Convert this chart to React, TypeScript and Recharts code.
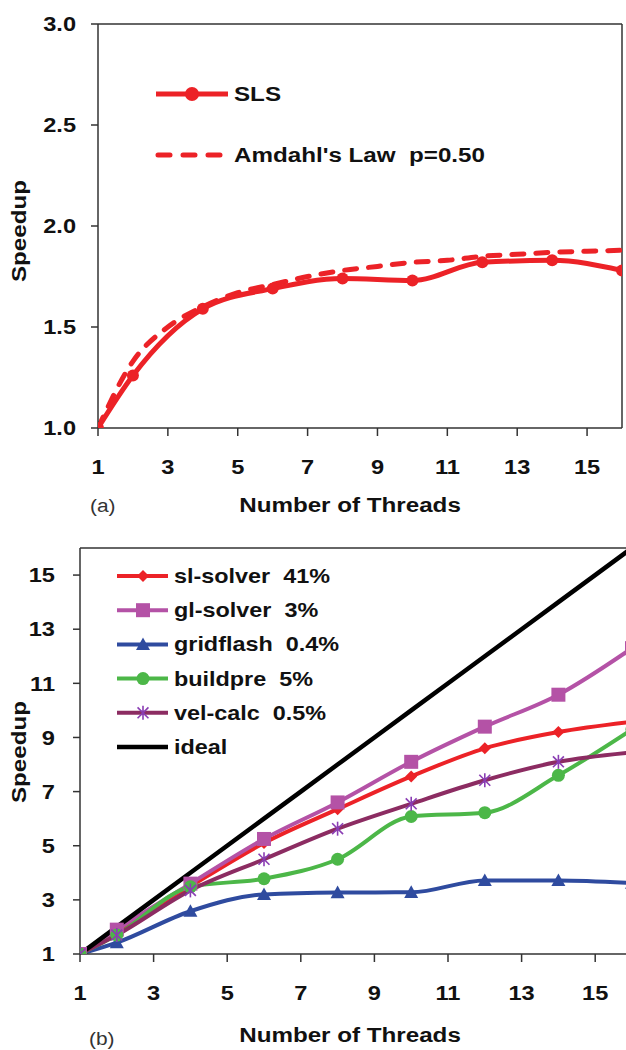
import React from 'react';
import { LineChart, Line, XAxis, YAxis, ReferenceLine, Legend } from 'recharts';

const FONT = "'Liberation Sans', Arial, Helvetica, sans-serif";
const SX = 1.18;

// ---------- chart (a) ----------
const slsThreads = [1, 2, 4, 6, 8, 10, 12, 14, 16];
const slsSpeedup = [1.0, 1.26, 1.59, 1.69, 1.74, 1.73, 1.82, 1.83, 1.78];
const amdahlThreads = [1, 2, 3, 4, 5, 6, 7, 8, 9, 10, 11, 12, 13, 14, 15, 16];
const amdahlSpeedup = [1.0, 1.33, 1.5, 1.6, 1.67, 1.71, 1.75, 1.78, 1.8, 1.82, 1.83, 1.85, 1.86, 1.87, 1.875, 1.88];
const ticksAX = [1, 3, 5, 7, 9, 11, 13, 15];
const ticksAY = [1.0, 1.5, 2.0, 2.5, 3.0];

// ---------- chart (b) ----------
const threadsB = [1, 2, 4, 6, 8, 10, 12, 14, 16];
const slSolver = [1, 1.8, 3.5, 5.1, 6.35, 7.56, 8.6, 9.2, 9.58];
const glSolver = [1, 1.9, 3.6, 5.25, 6.6, 8.1, 9.4, 10.58, 12.3];
const gridflash = [1, 1.42, 2.58, 3.2, 3.27, 3.28, 3.72, 3.72, 3.62];
const buildpre = [1, 1.7, 3.48, 3.78, 4.5, 6.08, 6.22, 7.6, 9.3];
const velCalc = [1, 1.7, 3.35, 4.5, 5.63, 6.55, 7.42, 8.1, 8.45];
const ideal = [1, 2, 4, 6, 8, 10, 12, 14, 16];
const ticksBX = [1, 3, 5, 7, 9, 11, 13, 15];
const ticksBY = [1, 3, 5, 7, 9, 11, 13, 15];
const seriesKeysB = ['sl', 'gl', 'grid', 'build', 'vel', 'ideal'];
const seriesNamesB = ['sl-solver  41%', 'gl-solver  3%', 'gridflash  0.4%', 'buildpre  5%', 'vel-calc  0.5%', 'ideal'];

const slsData = slsThreads.map((t, i) => ({ threads: t, sls: slsSpeedup[i] }));
const amdahlData = amdahlThreads.map((t, i) => ({ threads: t, amdahl: amdahlSpeedup[i] }));
const dataB = threadsB.map((t, i) => ({
  threads: t,
  sl: slSolver[i],
  gl: glSolver[i],
  grid: gridflash[i],
  build: buildpre[i],
  vel: velCalc[i],
  ideal: ideal[i],
}));

const RED = '#ec2227';
const MAGENTA = '#b452a6';
const BLUE = '#2f4b9f';
const GREEN = '#4cb748';
const MAROON = '#8c2c62';
const STARC = '#8a3db3';
const AXIS = '#333';
const colorsB = [RED, MAGENTA, BLUE, GREEN, MAROON, '#000'];

function Txt(props: any) {
  const { x, y, anchor = 'middle', size = 20, weight = 'bold', rotate = 0, fill = '#111', sx = SX, children } = props;
  return (
    <g transform={`translate(${x},${y}) rotate(${rotate})`}>
      <text
        transform={`scale(${sx},1)`}
        x={0}
        y={0}
        dy="0.36em"
        textAnchor={anchor}
        fontSize={size}
        fontWeight={weight}
        fontFamily={FONT}
        fill={fill}
        style={{ whiteSpace: 'pre' }}
      >
        {children}
      </text>
    </g>
  );
}

function Diamond({ cx, cy, r = 6, fill }: any) {
  return <path d={`M${cx},${cy - r} L${cx + r},${cy} L${cx},${cy + r} L${cx - r},${cy} Z`} fill={fill} />;
}
function Square({ cx, cy, r = 7, fill }: any) {
  return <rect x={cx - r} y={cy - r} width={2 * r} height={2 * r} fill={fill} />;
}
function Triangle({ cx, cy, r = 7, fill }: any) {
  return <path d={`M${cx},${cy - r} L${cx + r},${cy + r * 0.8} L${cx - r},${cy + r * 0.8} Z`} fill={fill} />;
}
function Circle({ cx, cy, r = 7, fill }: any) {
  return <circle cx={cx} cy={cy} r={r} fill={fill} />;
}
function Star({ cx, cy, r = 7, stroke }: any) {
  const d = r * 0.78;
  return (
    <g stroke={stroke} strokeWidth={1.6}>
      <line x1={cx} y1={cy - r} x2={cx} y2={cy + r} />
      <line x1={cx - d} y1={cy - d} x2={cx + d} y2={cy + d} />
      <line x1={cx - d} y1={cy + d} x2={cx + d} y2={cy - d} />
    </g>
  );
}

const markerFor: Record<string, (cx: number, cy: number, key?: any) => any> = {
  sl: (cx, cy, key) => <Diamond key={key} cx={cx} cy={cy} r={6} fill={RED} />,
  gl: (cx, cy, key) => <Square key={key} cx={cx} cy={cy} r={7} fill={MAGENTA} />,
  grid: (cx, cy, key) => <Triangle key={key} cx={cx} cy={cy} r={7} fill={BLUE} />,
  build: (cx, cy, key) => <Circle key={key} cx={cx} cy={cy} r={6.5} fill={GREEN} />,
  vel: (cx, cy, key) => <Star key={key} cx={cx} cy={cy} r={7} stroke={STARC} />,
  ideal: () => null,
};

function LegendA(props: any) {
  const payload = [...(props.payload || [])].sort((a: any, b: any) => (a.dataKey === 'sls' ? -1 : b.dataKey === 'sls' ? 1 : 0));
  return (
    <svg width={360} height={120} style={{ overflow: 'visible' }}>
      {payload.map((p: any, i: number) => {
        const y = 24 + i * 61;
        const dashed = p.dataKey === 'amdahl';
        return (
          <g key={p.dataKey}>
            {dashed ? (
              <line x1={8} y1={y} x2={72} y2={y} stroke={p.color} strokeWidth={5} strokeDasharray="12 13" strokeLinecap="round" />
            ) : (
              <>
                <line x1={6} y1={y} x2={78} y2={y} stroke={p.color} strokeWidth={5} />
                <circle cx={42} cy={y} r={7} fill={p.color} />
              </>
            )}
            <Txt x={84} y={y} anchor="start" size={20.5}>
              {p.value}
            </Txt>
          </g>
        );
      })}
    </svg>
  );
}

function LegendB(props: any) {
  const payload = [...(props.payload || [])].sort(
    (a: any, b: any) => seriesKeysB.indexOf(a.dataKey) - seriesKeysB.indexOf(b.dataKey)
  );
  return (
    <svg width={300} height={200} style={{ overflow: 'visible' }}>
      {payload.map((p: any, i: number) => {
        const y = 16 + i * 34.2;
        return (
          <g key={p.dataKey}>
            <line x1={7} y1={y} x2={58} y2={y} stroke={p.color} strokeWidth={p.dataKey === 'ideal' ? 4.5 : 4} />
            {markerFor[p.dataKey](33, y)}
            <Txt x={64} y={y} anchor="start" size={19.5} sx={1.2}>
              {p.value}
            </Txt>
          </g>
        );
      })}
    </svg>
  );
}

function ChartA() {
  return (
    <LineChart width={626} height={530} margin={{ top: 24, right: 4, left: 0, bottom: 0 }}>
      <XAxis
        dataKey="threads"
        type="number"
        domain={[1, 16]}
        ticks={ticksAX}
        allowDataOverflow
        height={102}
        axisLine={{ stroke: AXIS, strokeWidth: 1.5 }}
        tickLine={{ stroke: AXIS, strokeWidth: 1.5 }}
        tickSize={8}
        tickMargin={31}
        tick={(p: any) => (
          <Txt x={p.x} y={p.y} anchor="middle">
            {p.payload.value}
          </Txt>
        )}
        label={{
          content: () => (
            <g>
              <Txt x={350} y={505} size={20.5}>
                Number of Threads
              </Txt>
              <Txt x={90} y={505} anchor="start" size={19} weight="normal" fill="#333" sx={1.1}>
                (a)
              </Txt>
            </g>
          ),
        }}
      />
      <YAxis
        type="number"
        domain={[1, 3]}
        ticks={ticksAY}
        allowDataOverflow
        width={98}
        axisLine={{ stroke: AXIS, strokeWidth: 1.5 }}
        tickLine={{ stroke: AXIS, strokeWidth: 1.5 }}
        tickSize={7}
        tickMargin={15}
        tick={(p: any) => (
          <Txt x={p.x} y={p.y} anchor="end">
            {Number(p.payload.value).toFixed(1)}
          </Txt>
        )}
        label={{
          content: () => (
            <Txt x={19} y={231} rotate={-90} size={20.5}>
              Speedup
            </Txt>
          ),
        }}
      />
      <ReferenceLine y={3} stroke={AXIS} strokeWidth={1.5} />
      <ReferenceLine x={16} stroke={AXIS} strokeWidth={1.5} />
      <Line
        data={amdahlData}
        dataKey="amdahl"
        name="Amdahl's Law  p=0.50"
        type="monotone"
        stroke={RED}
        strokeWidth={5}
        strokeDasharray="12 12"
        strokeLinecap="round"
        dot={false}
        activeDot={false}
        isAnimationActive={false}
      />
      <Line
        data={slsData}
        dataKey="sls"
        name="SLS"
        type="monotone"
        stroke={RED}
        strokeWidth={5}
        dot={(p: any) => <circle key={`sls-${p.index}`} cx={p.cx} cy={p.cy} r={6} fill={RED} />}
        activeDot={false}
        isAnimationActive={false}
      />
      <Legend
        layout="vertical"
        align="center"
        verticalAlign="middle"
        content={(p: any) => <LegendA payload={p.payload} />}
        wrapperStyle={{ left: 150, top: 70, width: 360, height: 120 }}
      />
    </LineChart>
  );
}

function ChartB() {
  return (
    <LineChart width={640} height={520} data={dataB} margin={{ top: 18, right: 8, left: 0, bottom: 0 }}>
      <XAxis
        dataKey="threads"
        type="number"
        domain={[1, 16]}
        ticks={ticksBX}
        allowDataOverflow
        height={96}
        axisLine={{ stroke: AXIS, strokeWidth: 1.5 }}
        tickLine={{ stroke: AXIS, strokeWidth: 1.5 }}
        tickSize={8}
        tickMargin={31}
        tick={(p: any) => (
          <Txt x={p.x} y={p.y} anchor="middle">
            {p.payload.value}
          </Txt>
        )}
        label={{
          content: () => (
            <g>
              <Txt x={350} y={505} size={20.5}>
                Number of Threads
              </Txt>
              <Txt x={89} y={508} anchor="start" size={19} weight="normal" fill="#333" sx={1.1}>
                (b)
              </Txt>
            </g>
          ),
        }}
      />
      <YAxis
        type="number"
        domain={[1, 16]}
        ticks={ticksBY}
        allowDataOverflow
        width={80}
        axisLine={{ stroke: AXIS, strokeWidth: 1.5 }}
        tickLine={{ stroke: AXIS, strokeWidth: 1.5 }}
        tickSize={7}
        tickMargin={18}
        tick={(p: any) => (
          <Txt x={p.x} y={p.y} anchor="end">
            {p.payload.value}
          </Txt>
        )}
        label={{
          content: () => (
            <Txt x={19} y={222} rotate={-90} size={20.5}>
              Speedup
            </Txt>
          ),
        }}
      />
      <ReferenceLine y={16} stroke={AXIS} strokeWidth={1.5} />
      {seriesKeysB.map((key, i) => (
        <Line
          key={key}
          dataKey={key}
          name={seriesNamesB[i]}
          type="monotone"
          stroke={colorsB[i]}
          strokeWidth={key === 'ideal' ? 4.5 : 4}
          dot={key === 'ideal' ? false : (p: any) => markerFor[key](p.cx, p.cy, `${key}-${p.index}`)}
          activeDot={false}
          isAnimationActive={false}
        />
      ))}
      <Legend
        layout="vertical"
        align="center"
        verticalAlign="middle"
        content={(p: any) => <LegendB payload={p.payload} />}
        wrapperStyle={{ left: 110, top: 30, width: 300, height: 200 }}
      />
    </LineChart>
  );
}

export default function App() {
  return (
    <div style={{ position: 'absolute', left: 0, top: 0, width: 626, height: 1050, overflow: 'hidden', background: '#fff' }}>
      <div style={{ position: 'absolute', left: 0, top: 0 }}>
        <ChartA />
      </div>
      <div style={{ position: 'absolute', left: 0, top: 530 }}>
        <ChartB />
      </div>
    </div>
  );
}
